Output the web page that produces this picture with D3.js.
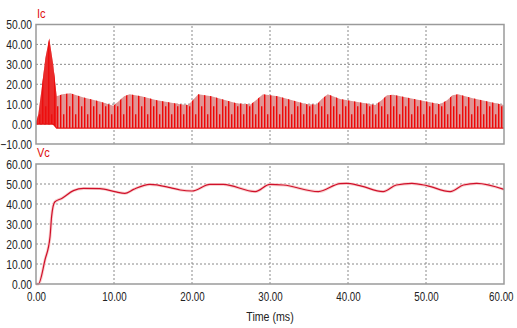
<!DOCTYPE html>
<html>
<head>
  <meta charset="utf-8">
  <script src="https://cdnjs.cloudflare.com/ajax/libs/d3/7.8.5/d3.min.js"></script>
  <style>
    body { margin: 0; background: #fff; }
    text { font-family: Arial, "Liberation Sans", sans-serif; }
  </style>
</head>
<body>
  <svg id="chart" width="517" height="328"></svg>
  <script>
    // Ic envelope (A)
    var icTime  = [0, 0.3, 0.8, 1.2, 1.7, 2.2, 2.65, 3.4, 4.4, 6.0, 8.2, 9.9, 10.6, 11.3, 12.0, 13.5, 15.5, 18.5,
                   19.5, 20.1, 20.8, 22.5, 25.7, 27.5, 28.2, 29.1, 31.0, 34.7, 36.0, 36.6, 37.4, 39.0, 43.5,
                   44.3, 45.0, 45.8, 48.0, 51.8, 52.7, 53.4, 54.1, 56.0, 60.0];
    var icPeak  = [0.5, 5, 20, 33, 43, 30, 14, 15, 15.5, 13.5, 11.3, 9.2, 11.5, 14, 15, 14, 12, 10,
                   9.6, 12, 15, 14, 10.5, 9.8, 12, 15, 14, 10, 9.8, 12.5, 15, 12.6, 9.6,
                   12, 14.5, 14.7, 13, 10, 12, 14.5, 15, 13, 9.6];
    var icFloor = [0, 0, 0, 0, 0, 0, -2, -2, -2, -2, -2, -2, -2, -2, -2, -2, -2, -2,
                   -2, -2, -2, -2, -2, -2, -2, -2, -2, -2, -2, -2, -2, -2, -2,
                   -2, -2, -2, -2, -2, -2, -2, -2, -2, -2];

    // Vc (V)
    var vcTime = [0, 0.3, 1.15, 1.8, 2.0, 2.4, 3.3, 4.8, 6.1, 8.2, 10.1, 11.4, 12.5, 14.6, 17.2, 18.5, 20.0,
                  22.3, 24.0, 28.1, 30.0, 31.7, 36.2, 39.0, 39.8, 41.5, 44.5, 46.2, 48.2, 50.1, 53.1,
                  54.8, 56.5, 60.0];
    var vcVal  = [0, 0, 12, 23.7, 33.7, 41, 42.8, 46.7, 47.8, 47.7, 46.2, 45.3, 47.3, 49.8, 48.2, 47, 46.5,
                  49.8, 49.8, 46.2, 49.8, 49.5, 46.2, 50.2, 50.3, 49.2, 46.2, 49.5, 50.3, 49.2, 46.2,
                  49.5, 50.3, 47.3];

    var timeTicks = [0, 10, 20, 30, 40, 50, 60];
    var icTicks = [-10, 0, 10, 20, 30, 40, 50];
    var vcTicks = [0, 10, 20, 30, 40, 50, 60];

    var svg = d3.select("#chart");
    var fmt = d3.format(".2f");

    var x = d3.scaleLinear().domain([0, 60]).range([36, 504]);
    var yI = d3.scaleLinear().domain([-10, 50]).range([144, 24.5]);
    var yV = d3.scaleLinear().domain([0, 60]).range([284, 164]);

    // the original font is condensed; squeeze Arial to match
    function narrow(sel, k) {
      sel.each(function () {
        var w = this.getComputedTextLength();
        d3.select(this).attr("textLength", w * k).attr("lengthAdjust", "spacingAndGlyphs");
      });
    }

    // stripe texture for the switching current
    var defs = svg.append("defs");
    var pat = defs.append("pattern")
      .attr("id", "spikes")
      .attr("patternUnits", "userSpaceOnUse")
      .attr("x", 36).attr("y", 0)
      .attr("width", 12).attr("height", 328);
    [[0.7, 20], [3.7, yI(5)], [6.7, 20], [9.7, yI(9)]].forEach(function (s) {
      pat.append("line")
        .attr("x1", s[0]).attr("x2", s[0])
        .attr("y1", s[1]).attr("y2", 150)
        .attr("stroke", "#ee0808").attr("stroke-width", 1.4);
    });

    function panel(y, ticks, label, labelY) {
      var g = svg.append("g");
      g.selectAll(".hg").data(ticks.slice(1, -1)).enter().append("line")
        .attr("x1", x(0)).attr("x2", x(60))
        .attr("y1", d => y(d)).attr("y2", d => y(d))
        .attr("stroke", "#8a8a8a").attr("stroke-dasharray", "2,2");
      g.selectAll(".vg").data(timeTicks.slice(1, -1)).enter().append("line")
        .attr("x1", d => x(d)).attr("x2", d => x(d))
        .attr("y1", y.range()[0]).attr("y2", y.range()[1])
        .attr("stroke", "#8a8a8a").attr("stroke-dasharray", "2,2");
      var ax = g.append("g")
        .attr("transform", "translate(" + (x(0) - 4) + ",0)")
        .call(d3.axisLeft(y).tickValues(ticks).tickFormat(fmt).tickSize(0).tickPadding(0));
      ax.select(".domain").remove();
      ax.selectAll("text").attr("font-size", 12.5).attr("fill", "#222")
        .style("font-family", "Arial, sans-serif").call(narrow, 0.82);
      svg.append("text").attr("x", 37).attr("y", labelY)
        .attr("font-size", 13).attr("fill", "#e01010").text(label).call(narrow, 0.85);
      return g;
    }

    panel(yI, icTicks, "Ic", 18);
    panel(yV, vcTicks, "Vc", 157);

    // Ic trace
    var icData = icTime.map((t, i) => ({ t: t, hi: icPeak[i], lo: icFloor[i] }));
    var icArea = d3.area().x(d => x(d.t)).y0(d => yI(d.lo)).y1(d => yI(d.hi));
    svg.append("path").datum(icData).attr("d", icArea).attr("fill", "#e09595");
    svg.append("path").datum(icData).attr("d", icArea).attr("fill", "url(#spikes)");
    // start-up pulse is almost solid
    svg.append("path").datum(icData.filter(d => d.t <= 2.65)).attr("d", icArea)
      .attr("fill", "#ec1010").attr("opacity", 0.8);
    svg.append("path").datum(icData)
      .attr("d", d3.line().x(d => x(d.t)).y(d => yI(d.lo)))
      .attr("fill", "none").attr("stroke", "#e81010").attr("stroke-width", 1.2);

    // Vc trace
    var vLine = d3.line().curve(d3.curveMonotoneX).x(d => x(d.t)).y(d => yV(d.v));
    var vcData = vcTime.map((t, i) => ({ t: t, v: vcVal[i] }));
    svg.append("path").datum(vcData).attr("d", vLine)
      .attr("fill", "none").attr("stroke", "#f8d0d0").attr("stroke-width", 3);
    svg.append("path").datum(vcData).attr("d", vLine)
      .attr("fill", "none").attr("stroke", "#d0102a").attr("stroke-width", 1.2);

    // frames
    [yI, yV].forEach(function (y) {
      svg.append("rect")
        .attr("x", x(0)).attr("y", y.range()[1])
        .attr("width", x(60) - x(0)).attr("height", y.range()[0] - y.range()[1])
        .attr("fill", "none").attr("stroke", "#9a9a9a").attr("stroke-width", 1.5);
    });

    // time axis
    var xa = svg.append("g").attr("transform", "translate(0,292)")
      .call(d3.axisBottom(x).tickValues(timeTicks).tickFormat(fmt).tickSize(0).tickPadding(0));
    xa.select(".domain").remove();
    xa.selectAll("text").attr("font-size", 12.5).attr("fill", "#222")
      .style("font-family", "Arial, sans-serif").call(narrow, 0.78);
    // keep the last label inside the window
    xa.selectAll("text").filter(d => d === 60).attr("text-anchor", "end").attr("x", 9);

    svg.append("text").attr("x", 270).attr("y", 321).attr("text-anchor", "middle")
      .attr("font-size", 12.5).attr("fill", "#222").text("Time (ms)").call(narrow, 0.85);
  </script>
</body>
</html>
